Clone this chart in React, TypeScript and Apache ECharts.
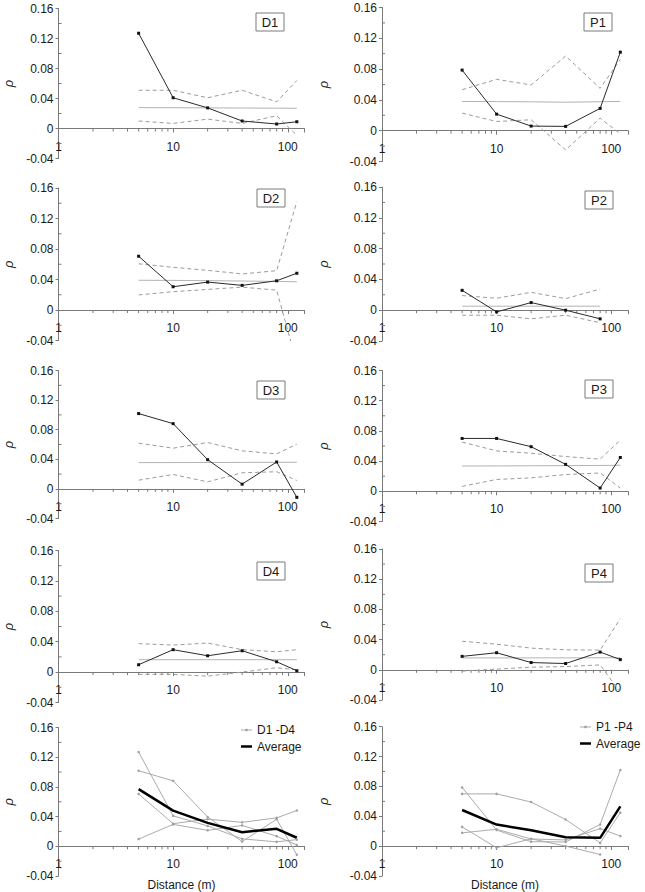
import React, { useEffect, useRef } from "react";
import * as echarts from "echarts";

// ---------- data ----------
const distances = [5, 10, 20, 40, 80, 120];
const p2Distances = [5, 10, 20, 40, 80];
const xTickLabels = [1, 10, 100];
const xMinorTicks = [2, 3, 4, 5, 6, 7, 8, 9, 20, 30, 40, 50, 60, 70, 80, 90];
const yMinorTicks = [-0.02, 0.02, 0.06, 0.1, 0.14];

const d1Rho = [0.127, 0.041, 0.0275, 0.01, 0.006, 0.009];
const d1Mean = [0.0278, 0.0277, 0.0275, 0.0273, 0.0271, 0.027];
const d1Upper = [0.051, 0.051, 0.041, 0.051, 0.0355, 0.064];
const d1Lower = [0.01, 0.0068, 0.0125, 0.0068, 0.017, -0.009];

const p1Rho = [0.0787, 0.0215, 0.006, 0.0056, 0.029, 0.102];
const p1Mean = [0.038, 0.0378, 0.0375, 0.037, 0.0376, 0.038];
const p1Upper = [0.0533, 0.0667, 0.0594, 0.097, 0.055, 0.0925];
const p1Lower = [0.0228, 0.012, 0.0142, -0.025, 0.0163, -0.004];

const d2Rho = [0.0705, 0.0305, 0.0366, 0.0323, 0.0383, 0.0482];
const d2Mean = [0.039, 0.0388, 0.0385, 0.038, 0.0375, 0.037];
const d2Upper = [0.0606, 0.056, 0.052, 0.0473, 0.0516, 0.142];
const d2Lower = [0.0198, 0.024, 0.027, 0.03, 0.026, -0.07];

const p2Rho = [0.0258, -0.0022, 0.0099, 0, -0.0112];
const p2Mean = [0.0052, 0.0052, 0.0052, 0.0052, 0.0052];
const p2Upper = [0.019, 0.0155, 0.0232, 0.015, 0.0275];
const p2Lower = [-0.0065, -0.0065, -0.0112, -0.0065, -0.0163];

const d3Rho = [0.1018, 0.0882, 0.0395, 0.0064, 0.0364, -0.0114];
const d3Mean = [0.0355, 0.0356, 0.0357, 0.0358, 0.0359, 0.036];
const d3Upper = [0.0618, 0.055, 0.0627, 0.0514, 0.0473, 0.0605];
const d3Lower = [0.0118, 0.0195, 0.0095, 0.0218, 0.0232, 0.0114];

const p3Rho = [0.07, 0.07, 0.0591, 0.0357, 0.0043, 0.0448];
const p3Mean = [0.0335, 0.0336, 0.0338, 0.034, 0.0342, 0.0345];
const p3Upper = [0.0652, 0.0535, 0.0504, 0.046, 0.0426, 0.0678];
const p3Lower = [0.0065, 0.0157, 0.0178, 0.0222, 0.0243, 0.0043];

const d4Rho = [0.0097, 0.0295, 0.0215, 0.0281, 0.0136, 0.0018];
const d4Mean = [0.0163, 0.0163, 0.0163, 0.0163, 0.0163, 0.0163];
const d4Upper = [0.0374, 0.0356, 0.0382, 0.0295, 0.0268, 0.0295];
const d4Lower = [-0.003, -0.003, -0.0053, 0, 0.0057, 0.003];

const p4Rho = [0.0178, 0.0226, 0.0096, 0.0083, 0.0235, 0.0135];
const p4Mean = [0.0157, 0.0157, 0.0158, 0.0158, 0.0159, 0.016];
const p4Upper = [0.0378, 0.0339, 0.0287, 0.0265, 0.0261, 0.0678];
const p4Lower = [-0.0017, 0.0009, 0.0035, 0.0043, 0.0065, -0.03];

const dAverage = [0.077, 0.048, 0.0315, 0.019, 0.0235, 0.0115];
const pAverage = [0.0484, 0.0289, 0.0213, 0.012, 0.0111, 0.0533];

// ---------- layout ----------
const FONT = '"Liberation Sans", Arial, Helvetica, sans-serif';
const AXIS_COLOR = "#7a7a7a";
const TEXT_COLOR = "#1a1a1a";
const colLeft = [58.5, 382];
const gridWidth = 246;
const tops = [
  [8.5, 188, 370.5, 550.5, 727.5],
  [7.5, 187, 370.5, 549, 726.7],
];
const heights = [
  [150, 152.5, 148, 152, 150],
  [154, 154, 151, 151, 150],
];

const zip = (xs: number[], ys: number[]) => xs.map((x, i) => [x, ys[i]]);

type Panel = {
  label: string;
  col: number;
  row: number;
  dist: number[];
  rho: number[];
  mean: number[];
  upper: number[];
  lower: number[];
  box: number[];
};

const panels: Panel[] = [
  { label: "D1", col: 0, row: 0, dist: distances, rho: d1Rho, mean: d1Mean, upper: d1Upper, lower: d1Lower, box: [256, 13] },
  { label: "P1", col: 1, row: 0, dist: distances, rho: p1Rho, mean: p1Mean, upper: p1Upper, lower: p1Lower, box: [584, 13] },
  { label: "D2", col: 0, row: 1, dist: distances, rho: d2Rho, mean: d2Mean, upper: d2Upper, lower: d2Lower, box: [257, 189] },
  { label: "P2", col: 1, row: 1, dist: p2Distances, rho: p2Rho, mean: p2Mean, upper: p2Upper, lower: p2Lower, box: [585, 191] },
  { label: "D3", col: 0, row: 2, dist: distances, rho: d3Rho, mean: d3Mean, upper: d3Upper, lower: d3Lower, box: [257, 381] },
  { label: "P3", col: 1, row: 2, dist: distances, rho: p3Rho, mean: p3Mean, upper: p3Upper, lower: p3Lower, box: [585, 380] },
  { label: "D4", col: 0, row: 3, dist: distances, rho: d4Rho, mean: d4Mean, upper: d4Upper, lower: d4Lower, box: [257, 562] },
  { label: "P4", col: 1, row: 3, dist: distances, rho: p4Rho, mean: p4Mean, upper: p4Upper, lower: p4Lower, box: [585, 564] },
];

function buildOption() {
  const grid: any[] = [];
  const xAxis: any[] = [];
  const yAxis: any[] = [];
  const series: any[] = [];
  const graphic: any[] = [];

  const addGrid = (col: number, row: number, withName: boolean) => {
    const idx = grid.length;
    const h = heights[col][row];
    grid.push({
      left: colLeft[col],
      top: tops[col][row],
      width: gridWidth,
      height: h,
      containLabel: false,
    });
    xAxis.push({
      type: "log",
      logBase: 10,
      gridIndex: idx,
      min: 1,
      max: 140,
      position: "bottom",
      // x axis crosses the y axis at rho = 0 (0.04 of the 0.20 range above the bottom)
      offset: -h * 0.2,
      axisLine: { show: true, onZero: false, lineStyle: { color: AXIS_COLOR, width: 1 } },
      axisTick: { show: true, length: 4, lineStyle: { color: AXIS_COLOR } },
      splitLine: { show: false },
      axisLabel: {
        color: TEXT_COLOR,
        fontFamily: FONT,
        fontSize: 12,
        margin: 12,
        formatter: (v: number) => {
          const hit = xTickLabels.find((t) => Math.abs(t - v) < 1e-6 * t);
          return hit !== undefined ? String(hit) : "";
        },
      },
      name: withName ? "Distance (m)" : "",
      nameLocation: "middle",
      nameGap: 33,
      nameTextStyle: { color: TEXT_COLOR, fontFamily: FONT, fontSize: 12 },
    });
    yAxis.push({
      type: "value",
      gridIndex: idx,
      min: -0.04,
      max: 0.16,
      interval: 0.04,
      axisLine: { show: true, onZero: false, lineStyle: { color: AXIS_COLOR, width: 1 } },
      axisTick: { show: true, length: 3, lineStyle: { color: AXIS_COLOR } },
      splitLine: { show: false },
      axisLabel: {
        color: TEXT_COLOR,
        fontFamily: FONT,
        fontSize: 12,
        margin: 5,
        formatter: (v: number) => String(+v.toFixed(2)),
      },
      name: "ρ",
      nameLocation: "middle",
      nameRotate: 90,
      nameGap: col === 0 ? 44 : 52,
      nameTextStyle: { color: TEXT_COLOR, fontFamily: FONT, fontSize: 13, fontStyle: "italic" },
    });
    // minor ticks on x axis (log positions 2..9, 20..90)
    series.push({
      type: "custom",
      xAxisIndex: idx,
      yAxisIndex: idx,
      silent: true,
      clip: false,
      data: xMinorTicks.map((v) => [v, 0]),
      renderItem: (params: any, api: any) => {
        const p = api.coord([api.value(0), api.value(1)]);
        return {
          type: "line",
          shape: { x1: p[0], y1: p[1], x2: p[0], y2: p[1] + 3 },
          style: { stroke: AXIS_COLOR, lineWidth: 1 },
        };
      },
    });
    // minor ticks on y axis (inside)
    series.push({
      type: "custom",
      xAxisIndex: idx,
      yAxisIndex: idx,
      silent: true,
      clip: false,
      data: yMinorTicks.map((v) => [1, v]),
      renderItem: (params: any, api: any) => {
        const p = api.coord([api.value(0), api.value(1)]);
        return {
          type: "line",
          shape: { x1: p[0], y1: p[1], x2: p[0] + 3, y2: p[1] },
          style: { stroke: AXIS_COLOR, lineWidth: 1 },
        };
      },
    });
    return idx;
  };

  panels.forEach((p) => {
    const idx = addGrid(p.col, p.row, false);
    const base = { type: "line", xAxisIndex: idx, yAxisIndex: idx, silent: true };
    series.push({
      ...base,
      name: p.label + " mean",
      data: zip(p.dist, p.mean),
      symbol: "none",
      lineStyle: { color: "#b3b3b3", width: 1 },
    });
    series.push({
      ...base,
      name: p.label + " upper",
      data: zip(p.dist, p.upper),
      symbol: "none",
      lineStyle: { color: "#9c9c9c", width: 1, type: [4, 3] },
    });
    series.push({
      ...base,
      name: p.label + " lower",
      data: zip(p.dist, p.lower),
      symbol: "none",
      lineStyle: { color: "#9c9c9c", width: 1, type: [4, 3] },
    });
    series.push({
      ...base,
      name: p.label,
      data: zip(p.dist, p.rho),
      symbol: "rect",
      symbolSize: 3,
      itemStyle: { color: "#111" },
      lineStyle: { color: "#2a2a2a", width: 1 },
    });
    graphic.push({
      type: "rect",
      shape: { x: p.box[0], y: p.box[1], width: 28, height: 18 },
      style: { fill: "#fff", stroke: "#7a7a7a", lineWidth: 1 },
    });
    graphic.push({
      type: "text",
      x: p.box[0] + 14,
      y: p.box[1] + 9.5,
      style: {
        text: p.label,
        fill: TEXT_COLOR,
        font: `13px ${FONT}`,
        align: "center",
        verticalAlign: "middle",
      },
    });
  });

  // bottom summary panels
  const summaries = [
    { col: 0, legendName: "D1 -D4", lines: [d1Rho, d2Rho, d3Rho, d4Rho], dists: [distances, distances, distances, distances], avg: dAverage, legendPos: [241, 730] },
    { col: 1, legendName: "P1 -P4", lines: [p1Rho, p2Rho, p3Rho, p4Rho], dists: [distances, p2Distances, distances, distances], avg: pAverage, legendPos: [580, 727] },
  ];
  summaries.forEach((s) => {
    const idx = addGrid(s.col, 4, true);
    s.lines.forEach((ln, k) => {
      series.push({
        type: "line",
        xAxisIndex: idx,
        yAxisIndex: idx,
        silent: true,
        name: s.legendName + " " + k,
        data: zip(s.dists[k], ln),
        symbol: "circle",
        symbolSize: 2.5,
        itemStyle: { color: "#a0a0a0" },
        lineStyle: { color: "#ababab", width: 1 },
      });
    });
    series.push({
      type: "line",
      xAxisIndex: idx,
      yAxisIndex: idx,
      silent: true,
      name: "Average",
      data: zip(distances, s.avg),
      symbol: "none",
      lineStyle: { color: "#000", width: 2.5 },
    });
    // legend (drawn as graphic so the icons match the reference)
    const [lx, ly] = s.legendPos;
    graphic.push({
      type: "line",
      shape: { x1: lx, y1: ly, x2: lx + 11, y2: ly },
      style: { stroke: "#ababab", lineWidth: 1 },
    });
    graphic.push({
      type: "circle",
      shape: { cx: lx + 5.5, cy: ly, r: 1.3 },
      style: { fill: "#a0a0a0" },
    });
    graphic.push({
      type: "text",
      x: lx + 16,
      y: ly,
      style: { text: s.legendName, fill: TEXT_COLOR, font: `12px ${FONT}`, verticalAlign: "middle" },
    });
    graphic.push({
      type: "line",
      shape: { x1: lx, y1: ly + 16.5, x2: lx + 11, y2: ly + 16.5 },
      style: { stroke: "#000", lineWidth: 2.5 },
    });
    graphic.push({
      type: "text",
      x: lx + 16,
      y: ly + 16.5,
      style: { text: "Average", fill: TEXT_COLOR, font: `12px ${FONT}`, verticalAlign: "middle" },
    });
  });

  return {
    animation: false,
    backgroundColor: "#fff",
    textStyle: { fontFamily: FONT },
    grid,
    xAxis,
    yAxis,
    series,
    graphic,
  };
}

export default function App() {
  const ref = useRef<HTMLDivElement>(null);
  useEffect(() => {
    if (!ref.current) return;
    const chart = echarts.init(ref.current, null, { renderer: "svg" });
    chart.setOption(buildOption() as any);
    return () => chart.dispose();
  }, []);
  return (
    <div
      ref={ref}
      style={{ position: "absolute", left: 0, top: 0, width: 645, height: 892, background: "#fff" }}
    />
  );
}
